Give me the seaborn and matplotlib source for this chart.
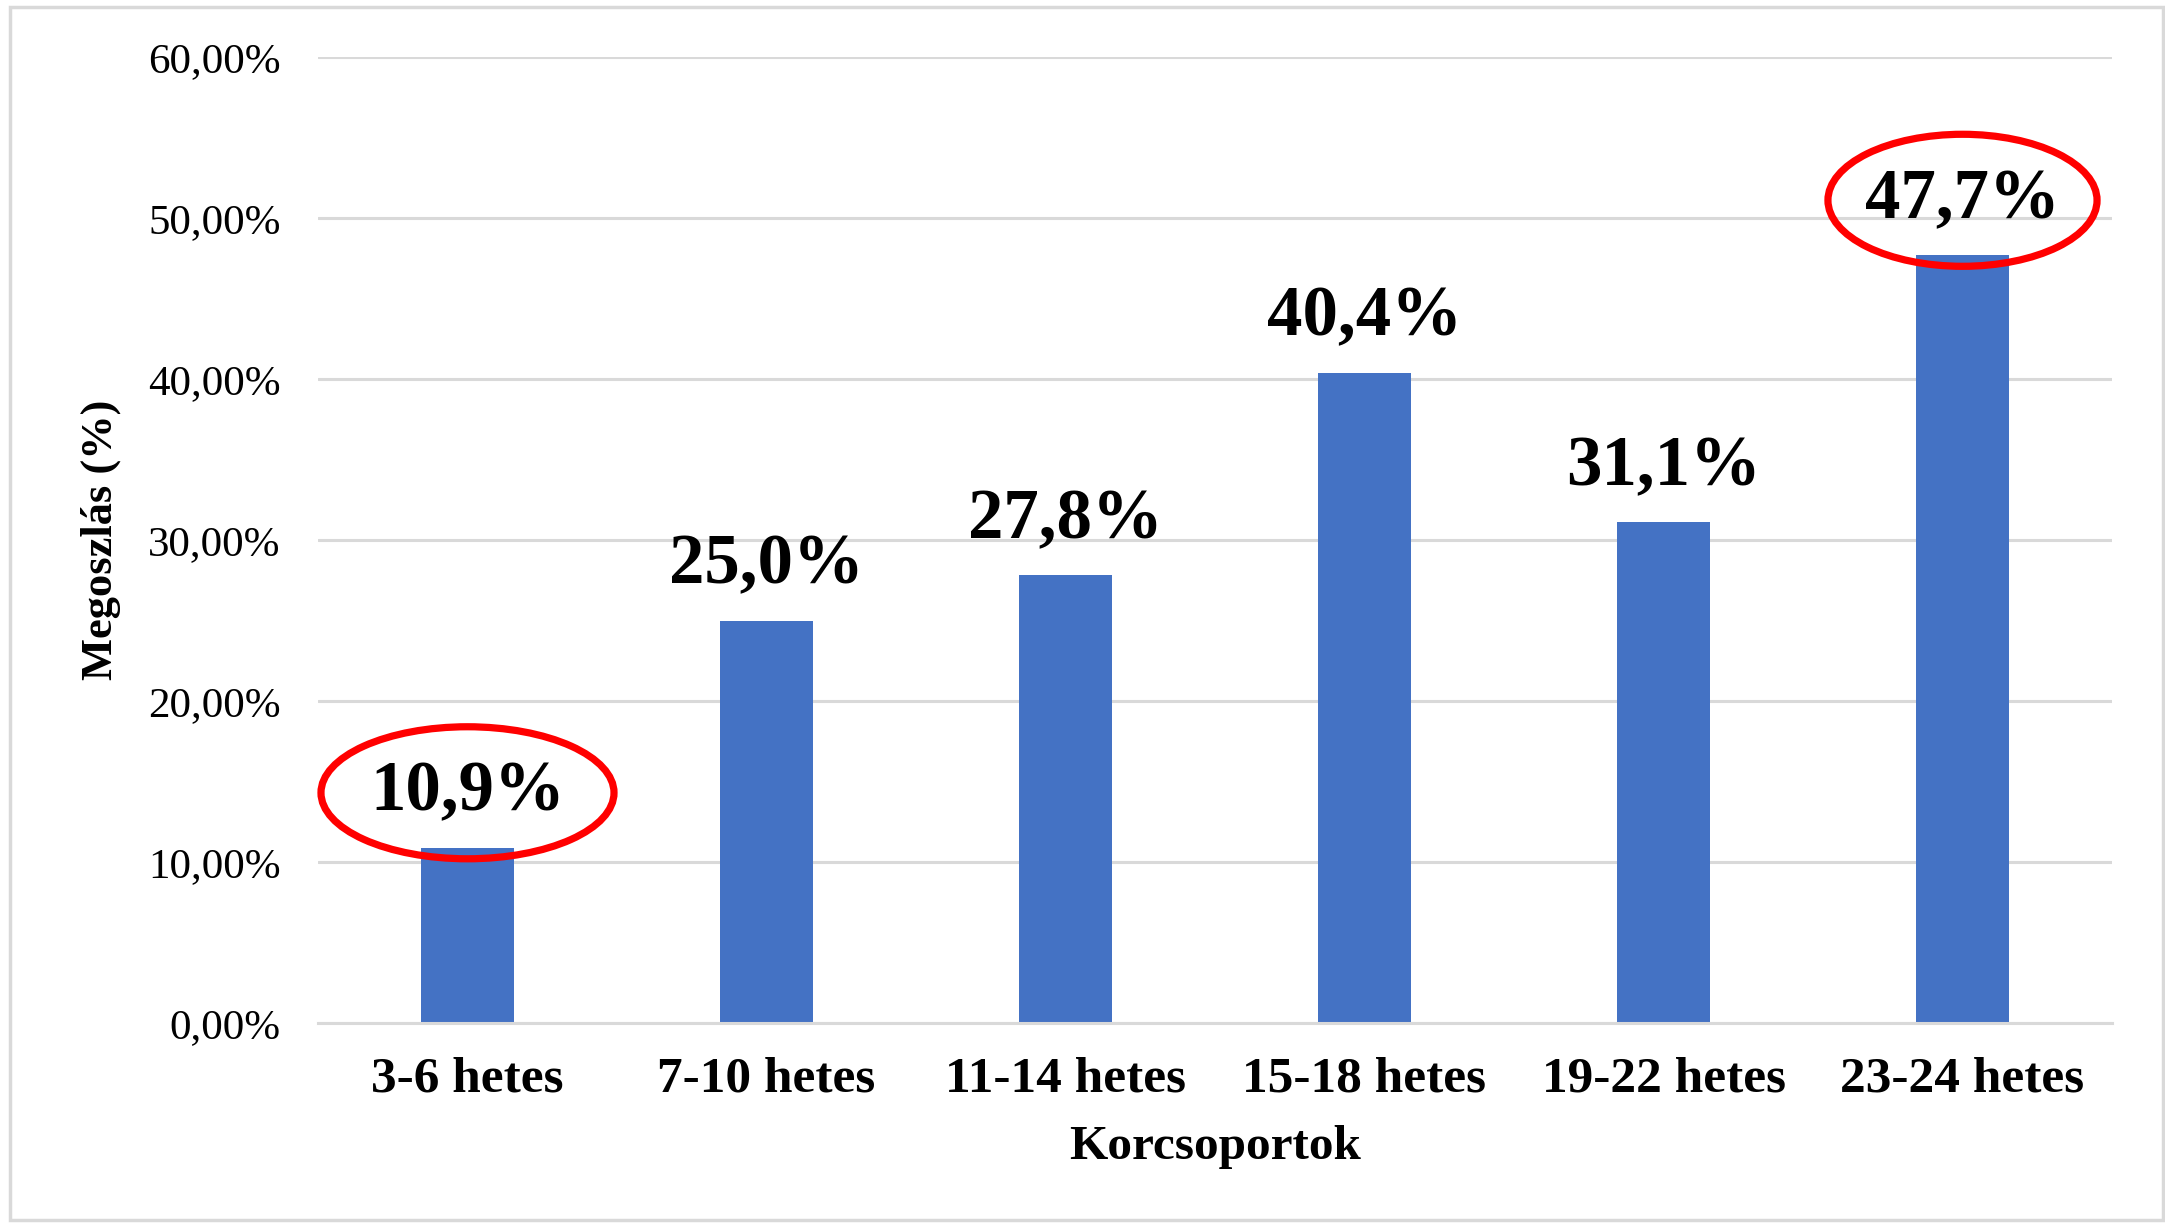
#!/usr/bin/env python3

import pandas as pd
import seaborn as sns
import matplotlib.pyplot as plt
from matplotlib.patches import Ellipse, Rectangle
from matplotlib.ticker import FuncFormatter

# ---- Data ----
groups = ["3-6 hetes", "7-10 hetes", "11-14 hetes", "15-18 hetes", "19-22 hetes", "23-24 hetes"]
shares = [10.9, 25.0, 27.8, 40.4, 31.1, 47.7]
y_ticks = [0, 10, 20, 30, 40, 50, 60]
highlighted = ["3-6 hetes", "23-24 hetes"]


def main():
    df = pd.DataFrame({"group": groups, "share": shares})

    sns.set_theme(style="whitegrid")
    plt.rcParams["font.family"] = ["Liberation Serif", "DejaVu Serif"]

    W, H = 2165, 1223
    fig = plt.figure(figsize=(W / 100, H / 100), dpi=100)
    ax = fig.add_axes([318 / W, 1 - 1023 / H, (2112 - 318) / W, (1023 - 57) / H])

    sns.barplot(data=df, x="group", y="share", color="#4472C4", saturation=1,
                width=0.31, linewidth=0, ax=ax)

    ax.set_xlim(-0.5, len(groups) - 0.5)
    ax.set_ylim(0, 60)
    ax.set_yticks(y_ticks)
    ax.yaxis.set_major_formatter(FuncFormatter(lambda v, _: f"{v:.2f}%".replace(".", ",")))

    # grid + spines
    ax.set_facecolor("white")
    ax.xaxis.grid(False)
    ax.yaxis.grid(True, color="#d9d9d9", linewidth=2.2)
    for side in ["left", "top", "right"]:
        ax.spines[side].set_visible(False)
    ax.spines["bottom"].set_color("#d9d9d9")
    ax.spines["bottom"].set_linewidth(2.2)

    ax.tick_params(axis="y", length=0, pad=27, labelsize=31, labelcolor="black")
    ax.tick_params(axis="x", length=0, pad=24, labelsize=37, labelcolor="black")
    for lbl in ax.get_xticklabels():
        lbl.set_fontweight("bold")

    ax.set_xlabel("Korcsoportok", fontsize=35.5, fontweight="bold", color="black", labelpad=16)
    ax.set_ylabel("Megoszlás (%)", fontsize=32, fontweight="bold", color="black", labelpad=19)

    # value labels above the bars
    gap = 3.4
    for i, v in enumerate(shares):
        ax.text(i, v + gap, f"{v:.1f}%".replace(".", ","), ha="center", va="center",
                fontsize=51, fontweight="bold", color="black")

    # red ellipses around the min / max labels
    for g in highlighted:
        i = groups.index(g)
        v = shares[i]
        w = 0.98 if i == 0 else 0.9
        ax.add_patch(Ellipse((i, v + gap), width=w, height=8.2, fill=False,
                             edgecolor="#ff0000", linewidth=5.2, clip_on=False, zorder=5))

    # light frame round the whole picture
    fig.patches.append(Rectangle((10 / W, 3 / H), (2163 - 10) / W, (1216 - 3) / H,
                                 transform=fig.transFigure, fill=False,
                                 edgecolor="#d9d9d9", linewidth=2.5))

    fig.savefig("out.png", dpi=100)
    plt.close(fig)


if __name__ == "__main__":
    main()
